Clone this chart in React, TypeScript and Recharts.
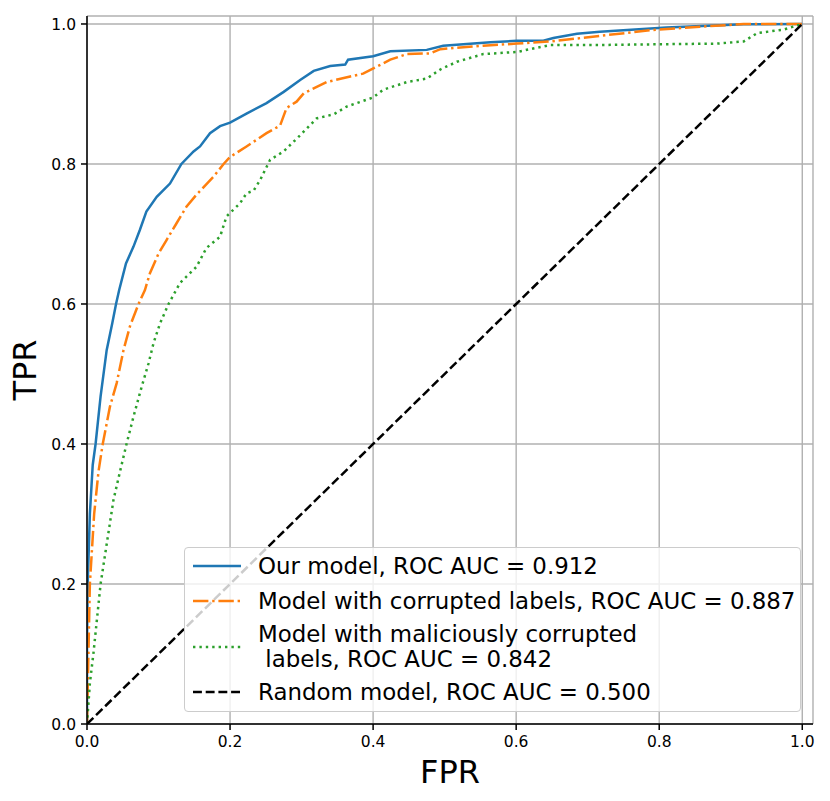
import {
  LineChart,
  Line,
  XAxis,
  YAxis,
  CartesianGrid,
  Legend,
  Label,
} from 'recharts'

// values
const ourFpr = [0, 0, 0.001, 0.004, 0.008, 0.012, 0.019, 0.0275, 0.0354, 0.0406, 0.045, 0.0545, 0.065, 0.074, 0.083, 0.0975, 0.116, 0.132, 0.149, 0.158, 0.172, 0.186, 0.2, 0.223, 0.251, 0.275, 0.298, 0.317, 0.34, 0.361, 0.365, 0.4, 0.424, 0.475, 0.498, 0.564, 0.601, 0.638, 0.652, 0.685, 0.717, 0.81, 0.918, 1]
const ourTpr = [0, 0.12, 0.2, 0.3, 0.37, 0.4, 0.468, 0.534, 0.573, 0.6, 0.62, 0.658, 0.682, 0.706, 0.732, 0.753, 0.772, 0.8, 0.818, 0.825, 0.844, 0.854, 0.859, 0.872, 0.887, 0.903, 0.92, 0.933, 0.94, 0.942, 0.949, 0.954, 0.961, 0.963, 0.969, 0.974, 0.976, 0.976, 0.98, 0.986, 0.989, 0.995, 0.9995, 1]

const corruptFpr = [0, 0.001, 0.002, 0.004, 0.01, 0.016, 0.022, 0.032, 0.0415, 0.051, 0.06, 0.072, 0.081, 0.088, 0.1, 0.111, 0.125, 0.139, 0.153, 0.177, 0.191, 0.2, 0.223, 0.251, 0.27, 0.279, 0.293, 0.303, 0.335, 0.368, 0.386, 0.405, 0.424, 0.447, 0.48, 0.494, 0.554, 0.601, 0.648, 0.717, 0.787, 0.857, 0.918, 1]
const corruptTpr = [0, 0.05, 0.1, 0.2, 0.3, 0.36, 0.4, 0.453, 0.487, 0.534, 0.568, 0.6, 0.62, 0.644, 0.672, 0.691, 0.715, 0.739, 0.756, 0.782, 0.8, 0.81, 0.825, 0.844, 0.855, 0.88, 0.889, 0.901, 0.917, 0.925, 0.929, 0.939, 0.949, 0.957, 0.958, 0.964, 0.969, 0.972, 0.975, 0.983, 0.991, 0.996, 1, 1]

const maliciousFpr = [0, 0.004, 0.009, 0.019, 0.028, 0.037, 0.046, 0.0555, 0.065, 0.0765, 0.086, 0.093, 0.102, 0.114, 0.13, 0.153, 0.167, 0.186, 0.195, 0.2, 0.214, 0.223, 0.233, 0.242, 0.256, 0.275, 0.298, 0.321, 0.345, 0.363, 0.4, 0.414, 0.447, 0.475, 0.494, 0.517, 0.554, 0.601, 0.624, 0.648, 0.717, 0.881, 0.918, 0.937, 0.974, 1]
const maliciousTpr = [0, 0.058, 0.101, 0.2, 0.26, 0.32, 0.36, 0.401, 0.439, 0.482, 0.515, 0.544, 0.572, 0.6, 0.63, 0.653, 0.68, 0.696, 0.725, 0.73, 0.744, 0.758, 0.762, 0.777, 0.806, 0.818, 0.841, 0.865, 0.871, 0.882, 0.895, 0.906, 0.917, 0.922, 0.935, 0.946, 0.957, 0.96, 0.965, 0.97, 0.97, 0.972, 0.975, 0.987, 0.992, 1]

const randomFpr = [0, 1]
const randomTpr = [0, 1]

const axisTicks = [0, 0.2, 0.4, 0.6, 0.8, 1.0]

const seriesNames = [
  'Our model, ROC AUC = 0.912',
  'Model with corrupted labels, ROC AUC = 0.887',
  'Model with maliciously corrupted\n labels, ROC AUC = 0.842',
  'Random model, ROC AUC = 0.500',
]
const seriesColors = ['#1f77b4', '#ff7f0e', '#2ca02c', '#000000']
const seriesDashes = [undefined, '15.4 3.8 2.4 3.8', '2.4 4', '8.9 3.8']

function zip(fpr: number[], tpr: number[]) {
  return fpr.map((f, i) => ({ fpr: f, tpr: tpr[i] }))
}

const seriesData = [
  zip(ourFpr, ourTpr),
  zip(corruptFpr, corruptTpr),
  zip(maliciousFpr, maliciousTpr),
  zip(randomFpr, randomTpr),
]

const FONT = '"DejaVu Sans", sans-serif'
const TICK_SIZE = 15.5

// legend rows: vertical centre of each row inside the box
const rowCentres = [18, 53, 99, 144]

function RocLegend() {
  return (
    <div
      style={{
        position: 'relative',
        width: 617,
        height: 165,
        boxSizing: 'border-box',
        border: '1.3px solid #cccccc',
        borderRadius: 4,
        background: 'rgba(255,255,255,0.8)',
        fontFamily: FONT,
        fontSize: 22.9,
        color: '#000',
      }}
    >
      {seriesNames.map((name, i) => {
        const lines = name.split('\n').length
        const c = rowCentres[i]
        return (
          <div key={name}>
            <svg
              width={50}
              height={6}
              style={{ position: 'absolute', left: 8, top: c - 3 }}
            >
              <line
                x1={0}
                y1={3}
                x2={48}
                y2={3}
                stroke={seriesColors[i]}
                strokeWidth={2.5}
                strokeDasharray={seriesDashes[i]}
              />
            </svg>
            <div
              style={{
                position: 'absolute',
                left: 73,
                top: c - 12.5 * lines,
                lineHeight: '25px',
                whiteSpace: 'pre',
              }}
            >
              {name}
            </div>
          </div>
        )
      })}
    </div>
  )
}

function XTick(props: any) {
  const { x, y, payload } = props
  return (
    <text x={x} y={y} dy={11.3} textAnchor="middle" fontSize={TICK_SIZE} fontFamily={FONT} fill="#000">
      {Number(payload.value).toFixed(1)}
    </text>
  )
}

function YTick(props: any) {
  const { x, y, payload } = props
  return (
    <text x={x} y={y} dy={5.6} textAnchor="end" fontSize={TICK_SIZE} fontFamily={FONT} fill="#000">
      {Number(payload.value).toFixed(1)}
    </text>
  )
}

function TprLabel(props: any) {
  const vb = props.viewBox
  const cy = vb.y + vb.height / 2
  const x = 36
  return (
    <text
      x={x}
      y={cy}
      transform={`rotate(-90 ${x} ${cy})`}
      textAnchor="middle"
      fontSize={32}
      fontFamily={FONT}
      fill="#000"
    >
      TPR
    </text>
  )
}

export default function App() {
  return (
    <div style={{ position: 'absolute', left: 0, top: 0, fontFamily: FONT }}>
      <LineChart
        width={830}
        height={801}
        margin={{ top: 16, right: 17, left: 0, bottom: 0 }}
      >
        <CartesianGrid stroke="#b0b0b0" strokeWidth={1.4} />
        <XAxis
          dataKey="fpr"
          type="number"
          domain={[0, 1.015]}
          allowDataOverflow
          ticks={axisTicks}
          height={77}
          tickSize={6}
          tickMargin={6}
          tick={<XTick />}
          stroke="#000"
          strokeWidth={1.5}
        >
          <Label
            value="FPR"
            position="insideBottom"
            offset={18}
            fontSize={32}
            fill="#000"
            fontFamily={FONT}
          />
        </XAxis>
        <XAxis
          xAxisId="top"
          orientation="top"
          type="number"
          domain={[0, 1.015]}
          height={0}
          tick={false}
          tickLine={false}
          stroke="#000"
          strokeWidth={1.5}
        />
        <YAxis
          type="number"
          domain={[0, 1.0114]}
          allowDataOverflow
          ticks={axisTicks}
          width={87}
          tickSize={6}
          tickMargin={5}
          tick={<YTick />}
          stroke="#000"
          strokeWidth={1.5}
        >
          <Label content={TprLabel} />
        </YAxis>
        <YAxis
          yAxisId="right"
          orientation="right"
          type="number"
          domain={[0, 1.0114]}
          width={0}
          tick={false}
          tickLine={false}
          stroke="#000"
          strokeWidth={1.5}
        />
        {seriesData.map((d, i) => (
          <Line
            key={seriesNames[i]}
            data={d}
            dataKey="tpr"
            name={seriesNames[i]}
            type="linear"
            stroke={seriesColors[i]}
            strokeWidth={2.5}
            strokeDasharray={seriesDashes[i]}
            dot={false}
            activeDot={false}
            isAnimationActive={false}
          />
        ))}
        <Legend
          content={RocLegend}
          layout="horizontal"
          verticalAlign="middle"
          align="center"
          wrapperStyle={{ left: 184, top: 547, bottom: 'auto', width: 617, height: 165 }}
        />
      </LineChart>
    </div>
  )
}
